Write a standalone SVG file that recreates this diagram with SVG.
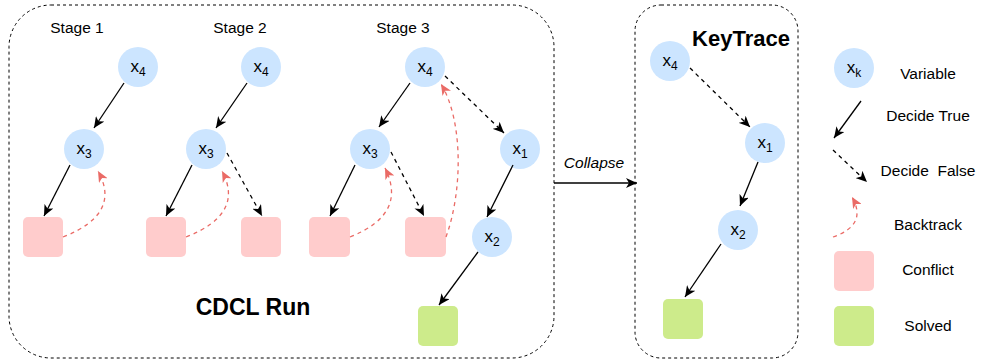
<svg xmlns="http://www.w3.org/2000/svg" width="981" height="362" viewBox="0 0 981 362">
<defs>
<style>
text{font-family:"Liberation Sans","DejaVu Sans",sans-serif;fill:#000;}
.lbl{font-size:15.5px;}
.var{font-size:17px;text-anchor:middle;}
.sub{font-size:12px;}
.circ{fill:#cce5ff;stroke:none;}
.conf{fill:#ffcccc;stroke:none;}
.solv{fill:#cdeb8b;stroke:none;}
.box{fill:none;stroke:#000;stroke-width:1;stroke-dasharray:3 3;}
.t{fill:none;stroke:#000;stroke-width:1.3;marker-end:url(#ab);}
.f{fill:none;stroke:#000;stroke-width:1.3;stroke-dasharray:4 4;marker-end:url(#ab);}
.b{fill:none;stroke:#ea6b66;stroke-width:1.3;stroke-dasharray:4 4;marker-end:url(#ar);}
</style>
<marker id="ab" markerUnits="userSpaceOnUse" markerWidth="12" markerHeight="10" refX="11" refY="5" orient="auto" viewBox="0 0 12 10">
<path d="M0,0 L11,5 L0,10 L3,5 z" fill="#000"/>
</marker>
<marker id="ar" markerUnits="userSpaceOnUse" markerWidth="12" markerHeight="10" refX="11" refY="5" orient="auto" viewBox="0 0 12 10">
<path d="M0,0 L11,5 L0,10 L3,5 z" fill="#ea6b66"/>
</marker>
</defs>

<g id="cdcl-box">
<rect class="box" x="9" y="5" width="545" height="353" rx="42"/>
<text x="253" y="315" style="font-size:23px;font-weight:bold" text-anchor="middle">CDCL Run</text>
</g>
<g id="keytrace-box">
<rect class="box" x="635" y="5" width="163" height="353" rx="26"/>
<text x="741" y="46" style="font-size:22px;font-weight:bold" text-anchor="middle">KeyTrace</text>
</g>

<g id="stage-labels">
<text class="lbl" x="77" y="33" text-anchor="middle">Stage 1</text>
<text class="lbl" x="240" y="33" text-anchor="middle">Stage 2</text>
<text class="lbl" x="403" y="33" text-anchor="middle">Stage 3</text>
</g>

<!-- Stage 1 -->
<g id="s1-x4"><circle class="circ" cx="138" cy="67" r="20"/><text class="var" x="138" y="72">x<tspan class="sub" dy="4">4</tspan></text></g>
<g id="s1-x3"><circle class="circ" cx="84" cy="149" r="20"/><text class="var" x="84" y="154">x<tspan class="sub" dy="4">3</tspan></text></g>
<g id="s1-c1"><rect class="conf" x="23" y="217" width="40" height="40" rx="5"/></g>

<!-- Stage 2 -->
<g id="s2-x4"><circle class="circ" cx="261" cy="67" r="20"/><text class="var" x="261" y="72">x<tspan class="sub" dy="4">4</tspan></text></g>
<g id="s2-x3"><circle class="circ" cx="206" cy="149" r="20"/><text class="var" x="206" y="154">x<tspan class="sub" dy="4">3</tspan></text></g>
<g id="s2-c1"><rect class="conf" x="146" y="217" width="40" height="40" rx="5"/></g>
<g id="s2-c2"><rect class="conf" x="241" y="217" width="40" height="40" rx="5"/></g>

<!-- Stage 3 -->
<g id="s3-x4"><circle class="circ" cx="425" cy="67" r="20"/><text class="var" x="425" y="72">x<tspan class="sub" dy="4">4</tspan></text></g>
<g id="s3-x3"><circle class="circ" cx="370" cy="149" r="20"/><text class="var" x="370" y="154">x<tspan class="sub" dy="4">3</tspan></text></g>
<g id="s3-x1"><circle class="circ" cx="520" cy="149" r="20"/><text class="var" x="520" y="154">x<tspan class="sub" dy="4">1</tspan></text></g>
<g id="s3-x2"><circle class="circ" cx="492" cy="237" r="20"/><text class="var" x="492" y="242">x<tspan class="sub" dy="4">2</tspan></text></g>
<g id="s3-c1"><rect class="conf" x="309" y="217" width="41" height="40" rx="5"/></g>
<g id="s3-c2"><rect class="conf" x="405" y="217" width="41" height="40" rx="5"/></g>
<g id="s3-sol"><rect class="solv" x="418" y="306" width="40" height="40" rx="5"/></g>

<!-- KeyTrace -->
<g id="k-x4"><circle class="circ" cx="670" cy="61" r="20"/><text class="var" x="670" y="66">x<tspan class="sub" dy="4">4</tspan></text></g>
<g id="k-x1"><circle class="circ" cx="765" cy="143" r="20"/><text class="var" x="765" y="148">x<tspan class="sub" dy="4">1</tspan></text></g>
<g id="k-x2"><circle class="circ" cx="738" cy="230" r="20"/><text class="var" x="738" y="235">x<tspan class="sub" dy="4">2</tspan></text></g>
<g id="k-sol"><rect class="solv" x="663" y="299" width="40" height="40" rx="5"/></g>

<!-- Legend -->
<g id="legend">
<circle class="circ" cx="854" cy="68" r="20"/><text class="var" x="854" y="73">x<tspan class="sub" dy="4">k</tspan></text>
<text class="lbl" x="928" y="79" text-anchor="middle">Variable</text>
<path class="t" d="M861,101 L834,138"/>
<text class="lbl" x="928" y="121" text-anchor="middle">Decide True</text>
<path class="f" d="M833,150 L867,182"/>
<text class="lbl" x="928" y="176" text-anchor="middle" xml:space="preserve">Decide  False</text>
<path class="b" d="M833,237 Q868,225 852,197"/>
<text class="lbl" x="928" y="230" text-anchor="middle">Backtrack</text>
<rect class="conf" x="834" y="251" width="40" height="40" rx="5"/>
<text class="lbl" x="928" y="275" text-anchor="middle">Conflict</text>
<rect class="solv" x="834" y="306" width="40" height="40" rx="5"/>
<text class="lbl" x="928" y="331" text-anchor="middle">Solved</text>
</g>

<g id="connectors">
<path class="t" d="M124,83 L94,128"/>
<path class="t" d="M70,165 L44,216"/>
<path class="b" d="M63,237 Q122,214 98,171"/>

<path class="t" d="M247,83 L216,128"/>
<path class="t" d="M192,165 L166,216"/>
<path class="f" d="M227,153 L262,216"/>
<path class="b" d="M186,237 Q245,214 222,171"/>

<path class="t" d="M410,83 L379,127"/>
<path class="f" d="M445,76 L504,133"/>
<path class="t" d="M355,165 L330,216"/>
<path class="f" d="M391,152 L424,216"/>
<path class="b" d="M350,237 Q408,214 385,168"/>
<path class="b" d="M446,237 C463,190 463,120 441,84"/>
<path class="t" d="M513,165 L487,217"/>
<path class="t" d="M478,252 L439,305"/>

<path class="t" d="M554,183 L637,183"/>
<text class="lbl" x="594" y="168" text-anchor="middle" font-style="italic">Collapse</text>

<path class="f" d="M690,68 L750,127"/>
<path class="t" d="M758,162 L740,206"/>
<path class="t" d="M721,244 L685,297"/>
</g>
</svg>
